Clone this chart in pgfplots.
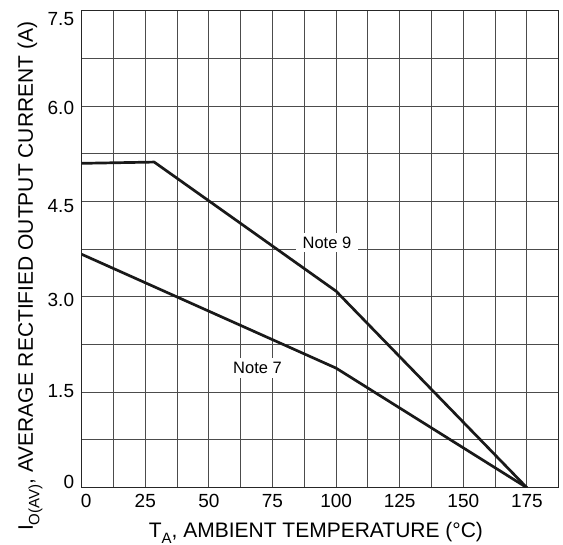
\documentclass[border=0pt]{standalone}
\usepackage{fontspec}
\setmainfont{Liberation Sans}
\usepackage{pgfplots}
\pgfplotsset{compat=1.18}

\begin{document}
\begin{tikzpicture}
\begin{axis}[
  scale only axis, width=477pt, height=477pt,
  xmin=0, xmax=187.5, ymin=0, ymax=7.5,
  xtick={0,12.5,25,37.5,50,62.5,75,87.5,100,112.5,125,137.5,150,162.5,175},
  xticklabels={\hspace*{9pt}0,,25,,50,,75,,100,,125,,150,,175},
  ytick={0,0.75,1.5,2.25,3,3.75,4.5,5.25,6,6.75,7.5},
  yticklabels={\raisebox{5.5pt}{0},,\raisebox{2pt}{1.5},,\raisebox{-3pt}{3.0},,\raisebox{-4.5pt}{4.5},,\raisebox{-2pt}{6.0},,\raisebox{-7.5pt}{7.5}},
  major tick length=0pt,
  grid=major,
  grid style={black!70, line width=1pt},
  axis line style={black!85, line width=1pt},
  tick label style={font=\fontsize{19}{19}\selectfont},
  xticklabel style={anchor=base, inner sep=0pt, yshift=-20.3pt},
  yticklabel style={anchor=base east, inner sep=0pt, xshift=-7.4pt, yshift=-6.8pt},
  label style={font=\fontsize{21}{21}\selectfont},
  xlabel={T\raisebox{-0.3em}{\fontsize{15}{15}\selectfont A}, AMBIENT TEMPERATURE (°C)},
  xlabel style={at={(axis description cs:0.491,-0.1034)}, anchor=base, inner sep=0pt},
  ylabel={I\raisebox{-0.3em}{\fontsize{15}{15}\selectfont O(AV)}, AVERAGE RECTIFIED OUTPUT CURRENT (A)},
  ylabel style={at={(axis description cs:-0.1021,0.443)}, anchor=base, inner sep=0pt},
]
% Note 9
\addplot[black!90, line width=2.7pt, line join=round] coordinates {
  (0,5.10) (28.5,5.12) (100,3.09) (175,0)
};
% Note 7
\addplot[black!90, line width=2.7pt, line join=round] coordinates {
  (0,3.67) (100,1.88) (175,0)
};
\node[fill=white, inner xsep=7pt, inner ysep=4pt, font=\fontsize{16.5}{16.5}\selectfont] at (axis cs:96.4,3.855) {Note 9};
\node[fill=white, inner xsep=7pt, inner ysep=4pt, font=\fontsize{16.5}{16.5}\selectfont] at (axis cs:69.1,1.88) {Note 7};
\end{axis}
\pgfresetboundingbox
\useasboundingbox (-81.7pt,-57.3pt) rectangle (481.3pt,487.7pt);
\end{tikzpicture}
\end{document}
